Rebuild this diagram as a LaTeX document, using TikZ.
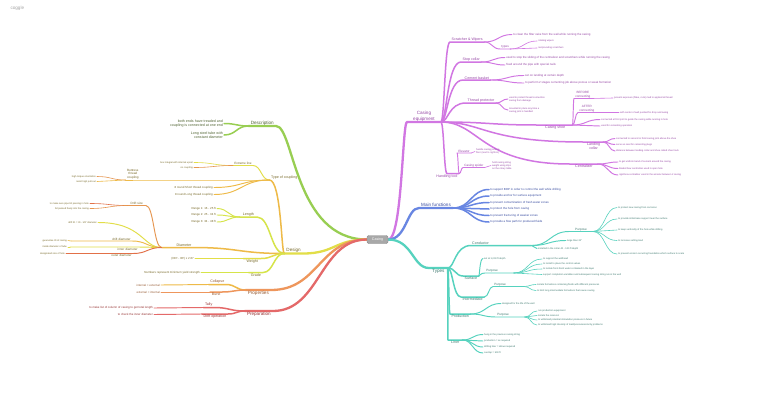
\documentclass[tikz,border=0pt]{standalone}
\usepackage{fontspec}
\setmainfont{Liberation Sans}
\usetikzlibrary{calc}
\definecolor{cP}{RGB}{209,118,226}
\definecolor{tP}{RGB}{150,70,165}
\definecolor{cB}{RGB}{104,134,226}
\definecolor{tB}{RGB}{55,75,160}
\definecolor{cT}{RGB}{86,210,190}
\definecolor{tT}{RGB}{60,120,110}
\definecolor{cG}{RGB}{152,206,82}
\definecolor{tG}{RGB}{80,100,50}
\definecolor{cY}{RGB}{226,222,72}
\definecolor{cYo}{RGB}{238,186,72}
\definecolor{cYl}{RGB}{214,228,74}
\definecolor{cOr}{RGB}{230,150,80}
\definecolor{cRo}{RGB}{226,112,72}
\definecolor{tY}{RGB}{120,105,40}
\definecolor{cO}{RGB}{238,150,92}
\definecolor{tO}{RGB}{150,90,50}
\definecolor{cR}{RGB}{228,105,105}
\definecolor{tR}{RGB}{150,50,50}
\definecolor{cgray}{RGB}{168,168,168}
\definecolor{cgrayd}{RGB}{140,140,140}
\newcommand{\fszA}{\fontsize{4.6}{5.3}\selectfont}
\newcommand{\fszB}{\fontsize{3.6}{4.2}\selectfont}
\newcommand{\fszC}{\fontsize{3.1}{3.6}\selectfont}
\newcommand{\fszD}{\fontsize{2.9}{3.4}\selectfont}
\newcommand{\fszE}{\fontsize{2.4}{2.9}\selectfont}
\pgfdeclarelayer{back}
\pgfdeclarelayer{bg}
\pgfsetlayers{back,bg,main}
\tikzset{
  hc/.style={to path={let \p1=(\tikztostart),\p2=(\tikztotarget),\n1={\x1+#1*(\x2-\x1)} in .. controls (\n1,\y1) and (\n1,\y2) .. (\tikztotarget) \tikztonodes}},
  hc/.default=0.5,
  eA/.style={line width=2.3pt,line cap=round,line join=round},
  eB/.style={line width=1.5pt,line cap=round,line join=round},
  eC/.style={line width=0.95pt,line cap=round,line join=round},
  eD/.style={line width=0.6pt,line cap=round,line join=round},
  lA/.style={font=\fszA,inner xsep=2pt,inner ysep=0.8pt,align=center},
  lB/.style={font=\fszB,inner xsep=1.5pt,inner ysep=0.7pt,align=center},
  lC/.style={font=\fszC,inner xsep=1.2pt,inner ysep=0.6pt,align=center},
  lfR/.style={font=\fszD,inner xsep=1pt,inner ysep=0.4pt,anchor=west,align=left},
  lfL/.style={font=\fszD,inner xsep=1pt,inner ysep=0.4pt,anchor=east,align=right},
  lsR/.style={font=\fszE,inner xsep=1pt,inner ysep=0.4pt,anchor=west,align=left},
  lsL/.style={font=\fszE,inner xsep=1pt,inner ysep=0.4pt,anchor=east,align=right},
}
\begin{document}
\begin{tikzpicture}[x=1pt,y=-1pt]
\begin{pgfonlayer}{back}
\fill[white] (0,0) rectangle (768,402);
\end{pgfonlayer}
\useasboundingbox (0,0) rectangle (768,402);
\node[font=\fszA,text=black!35,anchor=west] (logo) at (7,8) {coggle};
% centre
\node[fill=cgray,draw=cgrayd,line width=0.4pt,rounded corners=1.5pt,minimum width=21pt,minimum height=8pt,inner sep=0.5pt,font=\fszB,text=white] (c) at (377.5,239.5) {Casing};

% ===== Casing equipment =====
\begin{scope}[every node/.append style={text=tP}]
\node[lA,anchor=south west,inner xsep=6pt] (ce) at (407,122) {Casing\\equipment};
\node[lB,anchor=south west] (sw) at (450,42) {Scratcher \& Wipers};
\node[lfR] (sw1) at (512,34.5) {to clean the filter cake from the wall while running the casing};
\node[lC,anchor=south west] (swt) at (500,49) {types};
\node[lsR] (swt1) at (537,41) {rotating wipers};
\node[lsR] (swt2) at (537,48) {reciprocating scratchers};
\node[lB,anchor=south west] (sc) at (461,62) {Stop collar};
\node[lfR] (sc1) at (505,57.5) {used to stop the sliding of the centralizer and scratchers while running the casing};
\node[lfR] (sc2) at (505,65) {fixed around the pipe with special nails};
\node[lB,anchor=south west] (cb) at (463,80) {Cement basket};
\node[lfR] (cb1) at (524,75.5) {set on landing at certain depth};
\node[lfR] (cb2) at (524,83) {to perform 2 stages cementing job above porous or weak formation};
\node[lB,anchor=south west] (tp) at (466,103) {Thread protector};
\node[lsR] (tp1) at (508,99) {used to protect thread connection\\casing from damage};
\node[lsR] (tp2) at (508,110) {mounted in place any time a\\casing joint is handled};
\node[lB,anchor=north west,inner xsep=7pt] (cs) at (538,125) {Casing shoe};
\node[lC,anchor=south west] (cs1) at (574,98.5) {BEFORE\\connecting};
\node[lsR] (cs1a) at (613,98) {prevent exposure (flake, rock) mud to applied at thread};
\node[lC,anchor=south west] (cs2) at (578,112.5) {AFTER\\connecting};
\node[lsR] (cs2a) at (619,112.5) {with center of well pushed for drop and swing};
\node[lsR] (cs3) at (600,119.5) {connected at first joint to guide the casing while running in hole};
\node[lsR] (cs4) at (600,126) {used for cementing operation};
\node[lB,anchor=north west,inner xsep=3pt] (lc) at (584,142) {Landing\\collar};
\node[lsR] (lc1) at (615,138.5) {connected to second or third casing joint above the shoe};
\node[lsR] (lc2) at (615,144.5) {serve as seat for cementing plugs};
\node[lsR] (lc3) at (615,151) {distance between landing collar and shoe called shoe track};
\node[lB,anchor=north west,inner xsep=5pt] (cz) at (570,164) {Centralizer};
\node[lsR] (cz1) at (618,162) {to get uniform band of cement around the casing};
\node[lsR] (cz2) at (618,168.5) {bladed bow centralizer used in open hole};
\node[lsR] (cz3) at (618,175) {rigid bow centralizer used in the annular between 2 casing};
\node[lB,anchor=north] (ht) at (447,173.5) {Handling tool};
\node[lC,anchor=south west] (el) at (457,153) {Elevator};
\node[lsR] (el1) at (475,151.5) {handle casing joint on\\floor (next to rig floor)};
\node[lC,anchor=south west] (csp) at (463,167.5) {Casing spider};
\node[lsR] (csp1) at (491,165.5) {hold casing string\\weight using slips\\on the rotary table};
\end{scope}

% ===== Main functions =====
\begin{scope}[every node/.append style={text=tB}]
\node[lA,anchor=south west] (mf) at (419,208) {Main functions};
\node[lfR] (mf1) at (489,189.5) {to support BOP in order to control the well while drilling};
\node[lfR] (mf2) at (489,196) {to provide anchor for surface equipment};
\node[lfR] (mf3) at (489,202.5) {to prevent contamination of fresh water zones};
\node[lfR] (mf4) at (489,209) {to protect the hole from caving};
\node[lfR] (mf5) at (489,215.5) {to prevent fracturing of weaker zones};
\node[lfR] (mf6) at (489,222) {to provide a flow path for produced fluids};
\end{scope}

% ===== Types =====
\begin{scope}[every node/.append style={text=tT}]
\node[lA,anchor=north west,inner xsep=3pt] (ty) at (429,268) {Types};
\node[lB,anchor=south west,text width=58pt,align=left,inner xsep=1pt] (cd) at (471,245.5) {Conductor};
\node[lsR] (cd1) at (566,240.5) {large than 20"};
\node[lsR] (cd2) at (537,248.5) {installed in the collar 40 - 100 ft depth};
\node[lC,anchor=south west,inner xsep=6pt] (pu1) at (569,231.5) {Purpose};
\node[lsR] (pu1a) at (617,207.5) {to protect new casing from corrosion};
\node[lsR] (pu1b) at (617,219) {to provide initial base support near the surface};
\node[lsR] (pu1c) at (617,230) {to keep verticality of the hole while drilling};
\node[lsR] (pu1d) at (617,240.5) {to increase setting load};
\node[lsR] (pu1e) at (617,254) {to prevent erosion occurring foundation which surface to scale};
\node[lB,anchor=north west] (sf) at (463,276) {Surface};
\node[lsR] (sf1) at (483,258.5) {set at 1,000 ft depth};
\node[lC,anchor=south west,text width=26pt,align=left] (pu2) at (485,273) {Purpose};
\node[lsR] (pu2a) at (542,259) {to support the wellhead};
\node[lsR] (pu2b) at (542,264) {to install to place the control valves};
\node[lsR] (pu2c) at (542,269) {to isolate from fresh water contained in the layer};
\node[lsR] (pu2d) at (542,274.5) {support completion variables and subsequent casing string run in the well};
\node[lB,anchor=north west] (im) at (461,297) {Intermediate};
\node[lC,anchor=south west,text width=28pt,align=left] (pu3) at (493,286.5) {Purpose};
\node[lsR] (pu3a) at (536,284.5) {isolate formations containing fluids with different pressures};
\node[lsR] (pu3b) at (536,290.5) {to limit long intermediate formations that cause caving};
\node[lB,anchor=north west] (pd) at (450,314) {Production};
\node[lsR] (pd1) at (501,303.5) {designed for the life of the well};
\node[lC,anchor=south west,text width=26pt,align=left] (pu4) at (496,317) {Purpose};
\node[lsR] (pu4a) at (537,311) {run production equipment};
\node[lsR] (pu4b) at (537,315.5) {isolate the reservoir};
\node[lsR] (pu4c) at (537,320) {to withstand potential stimulation pressure in future};
\node[lsR] (pu4d) at (537,325) {to withstand high intensity of load/pressure/velocity problems};
\node[lB,anchor=north west,inner xsep=3pt] (ln) at (448,340) {Liner};
\node[lsR] (ln1) at (483,334.5) {hung in the previous casing string};
\node[lsR] (ln2) at (483,341) {production = as required};
\node[lsR] (ln3) at (483,347) {drilling liner = allows required};
\node[lsR] (ln4) at (483,353) {overlap = 500 ft};
\end{scope}

% ===== Description =====
\begin{scope}[every node/.append style={text=tG}]
\node[lA,anchor=south east] (ds) at (276,126) {Description};
\node[lfL,font=\fszB] (ds1) at (224,123.5) {both ends have treaded and\\coupling is connected at one end};
\node[lfL,font=\fszB] (ds2) at (224,135) {Long steel tube with\\constant diameter};
\end{scope}

% ===== Design =====
\begin{scope}[every node/.append style={text=tY}]
\node[lA,anchor=south east] (dg) at (303,253.5) {Design};
\node[lB,anchor=south east] (toc) at (299,180) {Type of coupling};
\node[lC,anchor=south east] (el2) at (253,165.5) {Extreme line};
\node[lsL] (el2a) at (194,162.5) {box integral with internal upset};
\node[lsL] (el2b) at (194,167.5) {no coupling};
\node[lC,anchor=south east] (bt) at (140,180) {Buttress\\thread\\coupling};
\node[lsL] (bt1) at (97,176.5) {high torque orientation};
\node[lsL] (bt2) at (97,181.5) {resist high pull-out};
\node[lfL] (s8) at (214,187.5) {8 round Short thread coupling};
\node[lfL] (l8) at (214,194.5) {8 round Long thread coupling};
\node[lB,anchor=south east,inner xsep=3pt] (lg) at (257,217) {Length};
\node[lfL] (lg1) at (217,208.5) {Range 1: 16 - 25 ft};
\node[lfL] (lg2) at (217,215) {Range 2: 25 - 34 ft};
\node[lfL] (lg3) at (217,222) {Range 3: 34 - 48 ft};
\node[lB,anchor=south east,text width=28pt,align=right] (dm) at (193,247.5) {Diameter};
\node[lC,anchor=south east,inner xsep=3pt] (dsz) at (146,205.5) {Drift size};
\node[lsL] (dsz1) at (90,203.5) {to make sure pipe bit passing in hole};
\node[lsL] (dsz2) at (90,208.5) {bit passed freely into the casing};
\node[lsL] (did) at (98,222.5) {drift ID = ID - 1/8" diameter};
\node[lC,anchor=south east,text width=58pt,align=right] (ddi) at (132,241) {drift diameter};
\node[lsL] (ddi1) at (68,240.5) {guarantee ID of casing};
\node[lC,anchor=north east,text width=66pt,align=right] (idi) at (139,247) {inner diameter};
\node[lsL] (idi1) at (68,247) {inside diameter of tube};
\node[lC,anchor=north east,text width=62pt,align=right] (odi) at (133,253.5) {outer diameter};
\node[lsL] (odi1) at (66,253.5) {designated size of hole};
\node[lB,anchor=north east,inner xsep=3pt] (wt) at (261,258.5) {Weight};
\node[lfL] (wt1) at (195,258.5) {(OD² - ID²) x 2.67};
\node[lB,anchor=north east,inner xsep=2pt] (gd) at (263,272.5) {Grade};
\node[lfL] (gd1) at (201,272.5) {Numbers represent minimum yield strength};
\end{scope}

% ===== Properties =====
\begin{scope}[every node/.append style={text=tO}]
\node[lA,anchor=north east] (pr) at (271,290) {Properties};
\node[lB,anchor=south east] (co) at (226,284.5) {Collapse};
\node[lfL] (co1) at (161,285) {internal < external};
\node[lB,anchor=north east] (bu) at (222,292) {Burst};
\node[lfL] (bu1) at (161,292) {external < internal};
\end{scope}

% ===== Preparation =====
\begin{scope}[every node/.append style={text=tR}]
\node[lA,anchor=north east] (pp) at (273,311) {Preparation};
\node[lB,anchor=south east] (ta) at (214,307.5) {Tally};
\node[lfL] (ta1) at (154,308) {to make list of column of casing to get total length};
\node[lB,anchor=north east] (dop) at (228,314) {Drift operation};
\node[lfL] (dop1) at (154,314.5) {to check the inner diameter};
\end{scope}

\begin{pgfonlayer}{bg}
% purple
\draw[eA,cP] (c.east) to[hc=0.75] (ce.south west) -- (ce.south east);
\draw[eB,cP] (ce.south east) to[hc=0.4] (sw.south west) -- (sw.south east);
\draw[eC,cP] (sw.south east) to[hc] (sw1.west);
\draw[eC,cP] (sw.south east) to[hc] (swt.south west) -- (swt.south east);
\draw[eD,cP] (swt.south east) to[hc] (swt1.west);
\draw[eD,cP] (swt.south east) to[hc] (swt2.west);
\draw[eB,cP] (ce.south east) to[hc=0.3] (sc.south west) -- (sc.south east);
\draw[eC,cP] (sc.south east) to[hc] (sc1.west);
\draw[eC,cP] (sc.south east) to[hc] (sc2.west);
\draw[eB,cP] (ce.south east) to[hc=0.3] (cb.south west) -- (cb.south east);
\draw[eC,cP] (cb.south east) to[hc] (cb1.west);
\draw[eC,cP] (cb.south east) to[hc] (cb2.west);
\draw[eB,cP] (ce.south east) to[hc=0.3] (tp.south west) -- (tp.south east);
\draw[eC,cP] (tp.south east) to[hc] (tp1.west);
\draw[eC,cP] (tp.south east) to[hc] (tp2.west);
\draw[eB,cP] (ce.south east) to[hc] (cs.north west) -- (cs.north east);
\draw[eC,cP] (cs.north east) to[hc] (cs1.south west) -- (cs1.south east);
\draw[eD,cP] (cs1.south east) to[hc] (cs1a.west);
\draw[eC,cP] (cs.north east) to[hc] (cs2.south west) -- (cs2.south east);
\draw[eD,cP] (cs2.south east) to[hc] (cs2a.west);
\draw[eC,cP] (cs.north east) to[hc] (cs3.west);
\draw[eC,cP] (cs.north east) to[hc] (cs4.west);
\draw[eB,cP] (ce.south east) to[hc=0.3] (lc.north west) -- (lc.north east);
\draw[eC,cP] (lc.north east) to[hc] (lc1.west);
\draw[eC,cP] (lc.north east) to[hc] (lc2.west);
\draw[eC,cP] (lc.north east) to[hc] (lc3.west);
\draw[eB,cP] (ce.south east) to[hc=0.3] (cz.north west) -- (cz.north east);
\draw[eC,cP] (cz.north east) to[hc] (cz1.west);
\draw[eC,cP] (cz.north east) to[hc] (cz2.west);
\draw[eC,cP] (cz.north east) to[hc] (cz3.west);
\draw[eB,cP] (ce.south east) to[hc] (ht.north) -- (ht.north east);
\draw[eC,cP] (ht.north east) to[hc] (el.south west) -- (el.south east);
\draw[eD,cP] (el.south east) to[hc] (el1.west);
\draw[eC,cP] (ht.north east) to[hc] (csp.south west) -- (csp.south east);
\draw[eD,cP] (csp.south east) to[hc] (csp1.west);
% blue
\draw[eA,cB] (c.east) to[hc=0.6] (mf.south west) -- (mf.south east);
\foreach \k in {mf1,mf2,mf3,mf4,mf5,mf6} \draw[eB,cB] (mf.south east) to[hc] (\k.west);
% teal
\draw[eA,cT] (c.east) to[hc=0.6] (ty.north west) -- (ty.north east);
\draw[eB,cT] (ty.north east) to[hc=0.3] (cd.south west) -- (cd.south east);
\draw[eC,cT] (cd.south east) to[hc] (cd1.west);
\draw[eC,cT] (cd.south east) to[hc] (cd2.west);
\draw[eC,cT] (cd.south east) to[hc] (pu1.south west) -- (pu1.south east);
\foreach \k in {pu1a,pu1b,pu1c,pu1d,pu1e} \draw[eD,cT] (pu1.south east) to[hc] (\k.west);
\draw[eB,cT] (ty.north east) to[hc] (sf.north west) -- (sf.north east);
\draw[eC,cT] (sf.north east) to[hc=0.2] (sf1.west);
\draw[eC,cT] (sf.north east) to[hc=0.2] (pu2.south west) -- (pu2.south east);
\foreach \k in {pu2a,pu2b,pu2c,pu2d} \draw[eD,cT] (pu2.south east) to[hc] (\k.west);
\draw[eB,cT] (ty.north east) to[hc=0.4] (im.north west) -- (im.north east);
\draw[eC,cT] (im.north east) to[hc] (pu3.south west) -- (pu3.south east);
\foreach \k in {pu3a,pu3b} \draw[eD,cT] (pu3.south east) to[hc] (\k.west);
\draw[eB,cT] (ty.north east) to[hc] (pd.north west) -- (pd.north east);
\draw[eC,cT] (pd.north east) to[hc] (pd1.west);
\draw[eC,cT] (pd.north east) to[hc] (pu4.south west) -- (pu4.south east);
\foreach \k in {pu4a,pu4b,pu4c,pu4d} \draw[eD,cT] (pu4.south east) to[hc] (\k.west);
\draw[eB,cT] (ty.north east) to[hc] (ln.north west) -- (ln.north east);
\foreach \k in {ln1,ln2,ln3,ln4} \draw[eC,cT] (ln.north east) to[hc] (\k.west);
% green
\draw[eA,cG] (c.west) to[hc=0.8] (ds.south east) -- (ds.south west);
\draw[eB,cG] (ds.south west) to[hc] (ds1.east);
\draw[eB,cG] (ds.south west) to[hc] (ds2.east);
% yellow
\draw[eA,cY] (c.west) to[hc] (dg.south east) -- (dg.south west);
\draw[eB,cYo] (dg.south west) to[hc=0.2] (toc.south west);
\draw[eC,cY] (toc.south west) to[hc] (el2.south east) -- (el2.south west);
\draw[eD,cY] (el2.south west) to[hc] (el2a.east);
\draw[eD,cOr] (el2.south west) to[hc] (el2b.east);
\draw[eC,cYo] (toc.south west) to[hc] (bt.south east) -- (bt.south west);
\draw[eD,cOr] (bt.south west) to[hc] (bt1.east);
\draw[eD,cYo] (bt.south west) to[hc] (bt2.east);
\draw[eC,cYo] (toc.south west) to[hc] (s8.east);
\draw[eC,cYo] (toc.south west) to[hc] (l8.east);
\draw[eB,cYl] (dg.south west) to[hc] (lg.south east) -- (lg.south west);
\foreach \k in {lg1,lg2,lg3} \draw[eC,cYl] (lg.south west) to[hc] (\k.east);
\draw[eB,cYo] (dg.south west) to[hc] (dm.south east) -- (dm.south west);
\draw[eC,cOr] (dm.south west) to[hc] (dsz.south east) -- (dsz.south west);
\draw[eD,cRo] (dsz.south west) to[hc] (dsz1.east);
\draw[eD,cOr] (dsz.south west) to[hc] (dsz2.east);
\draw[eC,cY] (dm.south west) to[hc=0.3] (did.east);
\draw[eC,cYo] (dm.south west) to[hc] (ddi.south east) -- (ddi.south west);
\draw[eD,cYo] (ddi.south west) to[hc] (ddi1.east);
\draw[eC,cY] (dm.south west) to[hc] (idi.north east) -- (idi.north west);
\draw[eD,cY] (idi.north west) to[hc] (idi1.east);
\draw[eC,cRo] (dm.south west) to[hc] (odi.north east) -- (odi.north west);
\draw[eD,cRo] (odi.north west) to[hc] (odi1.east);
\draw[eB,cY] (dg.south west) to[hc] (wt.north east) -- (wt.north west);
\draw[eC,cY] (wt.north west) to[hc] (wt1.east);
\draw[eB,cYl] (dg.south west) to[hc] (gd.north east) -- (gd.north west);
\draw[eC,cYl] (gd.north west) to[hc] (gd1.east);
% orange
\draw[eA,cO] (c.west) to[hc] (pr.north east) -- (pr.north west);
\draw[eB,cYo] (pr.north west) to[hc] (co.south east) -- (co.south west);
\draw[eC,cYo] (co.south west) to[hc] (co1.east);
\draw[eB,cO] (pr.north west) to[hc] (bu.north east) -- (bu.north west);
\draw[eC,cO] (bu.north west) to[hc] (bu1.east);
% red
\draw[eA,cR] (c.west) to[hc] (pp.north east) -- (pp.north west);
\draw[eB,cR] (pp.north west) to[hc] (ta.south east) -- (ta.south west);
\draw[eC,cR] (ta.south west) to[hc] (ta1.east);
\draw[eB,cR] (pp.north west) to[hc] (dop.north east) -- (dop.north west);
\draw[eC,cR] (dop.north west) to[hc] (dop1.east);
\end{pgfonlayer}
\end{tikzpicture}
\end{document}
